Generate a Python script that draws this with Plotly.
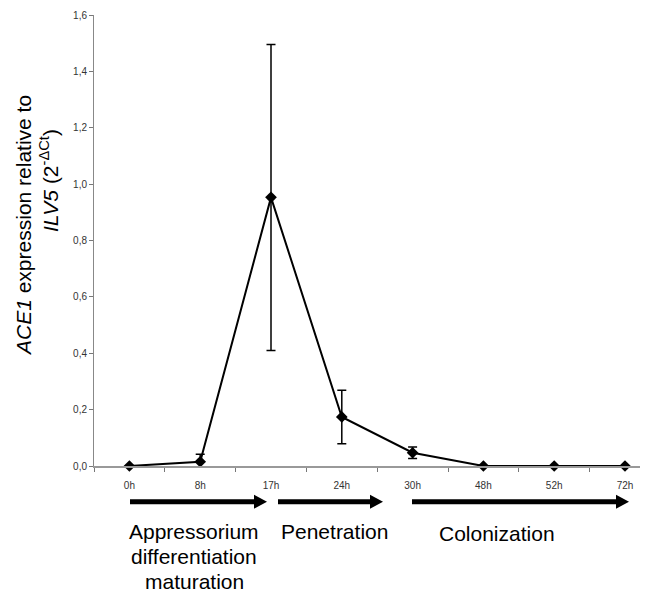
import plotly.graph_objects as go

# ---- data ----
time_labels = ["0h", "8h", "17h", "24h", "30h", "48h", "52h", "72h"]
expression = [0.0, 0.015, 0.953, 0.174, 0.047, 0.0, 0.0, 0.0]
err_plus = [0.0, 0.027, 0.542, 0.095, 0.020, 0.0, 0.0, 0.0]
err_minus = [0.0, 0.027, 0.543, 0.095, 0.020, 0.0, 0.0, 0.0]
y_ticks = [0.0, 0.2, 0.4, 0.6, 0.8, 1.0, 1.2, 1.4, 1.6]
phases = [["Appressorium", "differentiation", "maturation"], ["Penetration"], ["Colonization"]]

# page body has an 8px margin: figure drawn at (8,8)
OFF = 8
W, H = 648 - OFF, 592 - OFF
ML, MR, MT, MB = 94 - OFF, 0, 15 - OFF, 126
PW, PH = W - ML - MR, H - MT - MB

def px(x):
    # x in screen pixels -> paper
    return (x - OFF - ML) / PW

def py(y):
    # y in screen pixels -> paper
    return (H - MB - (y - OFF)) / PH

positions = list(range(len(time_labels)))

fig = go.Figure()
fig.add_trace(go.Scatter(
    x=positions, y=expression, mode="lines+markers",
    line=dict(color="black", width=2),
    marker=dict(symbol="diamond", size=9, color="black"),
    error_y=dict(type="data", symmetric=False, array=err_plus, arrayminus=err_minus,
                 color="black", thickness=1.5, width=4.5),
    showlegend=False, cliponaxis=False,
))

font = "Liberation Sans, Arial, sans-serif"

fig.update_layout(
    width=W, height=H,
    margin=dict(l=ML, r=MR, t=MT, b=MB),
    plot_bgcolor="white", paper_bgcolor="white",
    separators=",.",
    font=dict(family=font, color="black"),
    xaxis=dict(
        range=[-0.5, PW / 70.8 - 0.5],
        tickvals=positions, ticktext=time_labels,
        ticks="outside", ticklen=9, tickcolor="rgba(0,0,0,0)",
        minor=dict(tick0=0.5, dtick=1, ticks="outside", ticklen=4, tickcolor="#777", showgrid=False),
        showline=True, linecolor="#999", linewidth=1.5,
        showgrid=False, zeroline=False,
        tickfont=dict(size=10, color="#333", family=font),
    ),
    yaxis=dict(
        range=[0, 1.6],
        tickvals=y_ticks, tickformat=".1f",
        ticks="outside", ticklen=4, tickcolor="#777",
        showline=True, linecolor="#888", linewidth=1,
        showgrid=False, zeroline=False,
        tickfont=dict(size=10, color="#333", family=font),
    ),
)

# y-axis title (two lines)
fig.add_annotation(xref="paper", yref="paper", x=px(23), y=py(226),
                   text="<i>ACE1</i> expression relative to", textangle=-90,
                   showarrow=False, font=dict(size=21, family=font, color="black"),
                   xanchor="center", yanchor="middle")
fig.add_annotation(xref="paper", yref="paper", x=px(49), y=py(181),
                   text="<i>ILV5</i> (2<sup>-ΔCt</sup>)", textangle=-90,
                   showarrow=False, font=dict(size=21, family=font, color="black"),
                   xanchor="center", yanchor="middle")

# phase arrows
arrows = [(130, 267), (278, 383), (412, 629)]
ay = 501.7
for x0, x1 in arrows:
    hx = x1 - 13
    path = (f"M {px(x0)},{py(ay-2.5)} L {px(hx)},{py(ay-2.5)} L {px(hx)},{py(ay-7)} "
            f"L {px(x1)},{py(ay)} L {px(hx)},{py(ay+7)} L {px(hx)},{py(ay+2.5)} "
            f"L {px(x0)},{py(ay+2.5)} Z")
    fig.add_shape(type="path", xref="paper", yref="paper", path=path,
                  fillcolor="black", line=dict(color="black", width=0))

# phase labels (one annotation per line, 25px line spacing)
label_pos = [(194, 531.5), (334, 531.5), (497, 533)]
for lines, (lx, ly) in zip(phases, label_pos):
    for i, line in enumerate(lines):
        fig.add_annotation(xref="paper", yref="paper", x=px(lx), y=py(ly + 25 * i),
                           text=line, showarrow=False,
                           xanchor="center", yanchor="middle",
                           font=dict(size=21, family=font, color="black"))

fig.write_html("out.html")
